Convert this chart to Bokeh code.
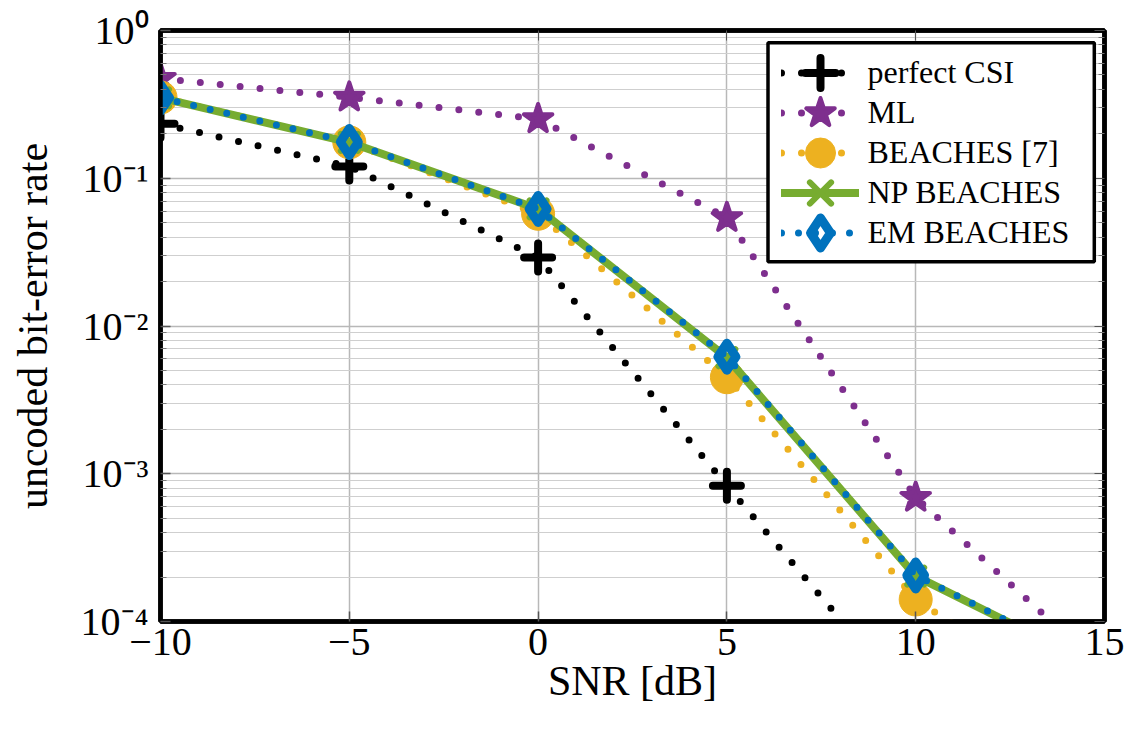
from bokeh.plotting import figure
from bokeh.models import (Range1d, LogAxis, LinearAxis, FixedTicker, CustomJSTickFormatter,
                          Legend, LegendItem, BoxAnnotation)
from bokeh.embed import file_html
from bokeh.resources import INLINE

# ---------------- data ----------------
snr_db = [-10, -5, 0, 5, 10, 15]
ber_perfect_csi = [0.234, 0.12, 0.0291, 8.3e-4, 2.6e-5, 6e-7]
ber_ml = [0.473, 0.353, 0.252, 0.054, 6.9e-4, 4.7e-5]
ber_beaches = [0.352, 0.175, 0.0575, 4.5e-3, 1.41e-4, 2.0e-5]
ber_np_beaches = [0.35, 0.175, 0.062, 6.1e-3, 2.03e-4, 4.7e-5]
ber_em_beaches = [0.35, 0.176, 0.062, 6.2e-3, 2.05e-4, 4.8e-5]

series_labels = ["perfect CSI", "ML", "BEACHES [7]", "NP BEACHES", "EM BEACHES"]
x_ticks = [-10, -5, 0, 5, 10, 15]
y_ticks = [1e-4, 1e-3, 1e-2, 1e-1, 1.0]
y_minor_ticks = [m * 10.0 ** e for e in range(-4, 0) for m in range(2, 10)]

FONT = "Liberation Serif"
C_BLACK = "#000000"
C_PURPLE = "#7E2F8E"
C_ORANGE = "#EDB120"
C_GREEN = "#77AC30"
C_BLUE = "#0072BD"

FRAME_W, FRAME_H = 944, 591

p = figure(frame_width=FRAME_W, frame_height=FRAME_H,
           x_range=Range1d(-10, 15), y_range=Range1d(1e-4, 1.0),
           y_axis_type="log", output_backend="svg", toolbar_location=None,
           min_border_left=160, min_border_top=30, min_border_right=33, min_border_bottom=108,
           x_axis_label="SNR [dB]", y_axis_label="uncoded bit-error rate")

p.background_fill_color = "white"
p.border_fill_color = "white"
p.outline_line_color = "black"
p.outline_line_width = 4.5

yticker = FixedTicker(ticks=y_ticks, minor_ticks=y_minor_ticks)
xticker = FixedTicker(ticks=x_ticks, minor_ticks=[])
p.yaxis.ticker = yticker
p.xaxis.ticker = xticker
p.ygrid.ticker = yticker
p.xgrid.ticker = xticker

p.yaxis.formatter = CustomJSTickFormatter(code="""
const e = Math.round(Math.log10(tick));
const m = {"-":"\u207B","0":"\u2070","1":"\u00B9","2":"\u00B2","3":"\u00B3","4":"\u2074",
           "5":"\u2075","6":"\u2076","7":"\u2077","8":"\u2078","9":"\u2079"};
return "10" + String(e).split("").map(c => m[c]).join("");
""")
p.xaxis.formatter = CustomJSTickFormatter(code="""
return tick < 0 ? "\u2212" + Math.abs(tick) : String(tick);
""")

for ax in [p.xaxis[0], p.yaxis[0]]:
    ax.axis_line_color = "black"
    ax.axis_line_width = 4.5
    ax.major_tick_in = 10
    ax.major_tick_out = 0
    ax.minor_tick_in = 6
    ax.minor_tick_out = 0
    ax.major_tick_line_color = "#555555"
    ax.minor_tick_line_color = "#777777"
    ax.major_tick_line_width = 1.5
    ax.minor_tick_line_width = 1.2
    ax.major_label_text_font = FONT
    ax.major_label_text_font_size = "40px"
    ax.major_label_text_color = "black"
    ax.axis_label_text_font = FONT
    ax.axis_label_text_font_size = "42px"
    ax.axis_label_text_font_style = "normal"
    ax.axis_label_text_color = "black"

p.yaxis.major_label_standoff = 12
p.yaxis.axis_label_standoff = 22
p.xaxis.major_label_standoff = 7
p.xaxis.axis_label_standoff = 0

# inside ticks on the opposite sides
blank = CustomJSTickFormatter(code="return '';")
right_ax = LogAxis(ticker=yticker, formatter=blank, major_label_standoff=0,
                   major_tick_in=10, major_tick_out=0, minor_tick_in=6, minor_tick_out=0,
                   axis_line_color="black", axis_line_width=4.5,
                   major_tick_line_color="#555555", minor_tick_line_color="#777777",
                   major_label_text_font_size="1px")
top_ax = LinearAxis(ticker=xticker, formatter=blank, major_label_standoff=0,
                    major_tick_in=10, major_tick_out=0, minor_tick_in=0, minor_tick_out=0,
                    axis_line_color="black", axis_line_width=4.5,
                    major_tick_line_color="#555555",
                    major_label_text_font_size="1px")
p.add_layout(right_ax, "right")
p.add_layout(top_ax, "above")

p.xgrid.grid_line_color = "#b8b8b8"
p.xgrid.grid_line_width = 1.5
p.ygrid.grid_line_color = "#b8b8b8"
p.ygrid.grid_line_width = 1.5
p.ygrid.minor_grid_line_color = "#cfcfcf"
p.ygrid.minor_grid_line_width = 1.2

DOT = dict(line_width=7, line_cap="round")

# perfect CSI
l1 = p.line(snr_db, ber_perfect_csi, line_color=C_BLACK, line_dash="0 20", **DOT)
s1 = p.scatter(snr_db, ber_perfect_csi, marker="cross", size=28, line_color=C_BLACK,
               line_width=8, line_cap="round")
# ML
l2 = p.line(snr_db, ber_ml, line_color=C_PURPLE, line_dash="0 20", **DOT)
s2 = p.scatter(snr_db, ber_ml, marker="star", size=30, fill_color=C_PURPLE,
               line_color=C_PURPLE, line_width=4, line_join="round")
# BEACHES [7]
l3 = p.line(snr_db, ber_beaches, line_color=C_ORANGE, line_dash="0 20", **DOT)
s3 = p.scatter(snr_db, ber_beaches, marker="circle", size=33, fill_color=C_ORANGE,
               line_color=C_ORANGE, line_width=1)
# NP BEACHES
l4 = p.line(snr_db, ber_np_beaches, line_color=C_GREEN, line_width=8, line_join="round",
            line_cap="round")
s4 = p.scatter(snr_db, ber_np_beaches, marker="x", size=24, line_color=C_GREEN,
               line_width=6, line_cap="round")
# EM BEACHES
l5 = p.line(snr_db, ber_em_beaches, line_color=C_BLUE, line_dash="0 17", **DOT)
s5 = p.scatter(snr_db, ber_em_beaches, marker="diamond", size=27, fill_alpha=0,
               line_color=C_BLUE, line_width=9, line_join="round")

# legend frame (frame-relative screen units, y measured from the frame bottom)
legend_box = BoxAnnotation(left=607.5, right=933.8, bottom=359.8, top=578.8,
                           left_units="screen", right_units="screen",
                           top_units="screen", bottom_units="screen",
                           fill_color="white", fill_alpha=1.0,
                           line_color="black", line_width=3.5, line_alpha=1.0)
p.add_layout(legend_box)

# one legend per entry so that big legend markers keep a 40px row pitch
entries = [(series_labels[0], [l1, s1]), (series_labels[1], [l2, s2]),
           (series_labels[2], [l3, s3]), (series_labels[3], [l4, s4]),
           (series_labels[4], [l5, s5])]
GLYPH_BOX = 75
first_center_from_bottom = 548.8
row_pitch = 40
for i, (lab, rends) in enumerate(entries):
    bottom = first_center_from_bottom - i * row_pitch - GLYPH_BOX / 2
    lg = Legend(items=[LegendItem(label=lab, renderers=rends)],
                location=(620.5, bottom), orientation="vertical",
                glyph_width=78, glyph_height=GLYPH_BOX, label_height=GLYPH_BOX,
                spacing=0, padding=0, label_standoff=9, margin=0,
                border_line_alpha=0, background_fill_alpha=0,
                label_text_font=FONT, label_text_font_size="32px",
                label_text_color="black")
    p.add_layout(lg, "center")

open("out.html", "w").write(file_html(p, INLINE))
